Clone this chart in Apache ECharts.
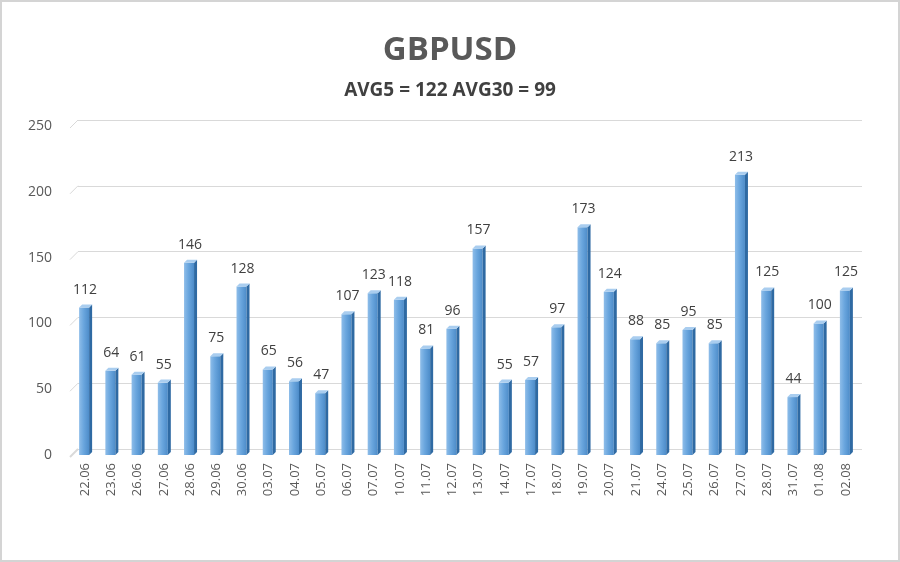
<!DOCTYPE html>
<html>
<head>
<meta charset="utf-8">
<script src="https://cdn.jsdelivr.net/npm/echarts@6/dist/echarts.min.js"></script>
<style>html,body{margin:0;padding:0;background:#fff}#c{width:900px;height:562px}</style>
</head>
<body>
<div id="c"></div>
<script>
var categories = ["22.06","23.06","26.06","27.06","28.06","29.06","30.06","03.07","04.07","05.07","06.07","07.07","10.07","11.07","12.07","13.07","14.07","17.07","18.07","19.07","20.07","21.07","24.07","25.07","26.07","27.07","28.07","31.07","01.08","02.08"];
var values = [112,64,61,55,146,75,128,65,56,47,107,123,118,81,96,157,55,57,97,173,124,88,85,95,85,213,125,44,100,125];
var yTicks = [0,50,100,150,200,250];
var titleText = "GBPUSD";
var subtitleText = "AVG5 = 122 AVG30 = 99";

var FONT = '"Open Sans", "Noto Sans", sans-serif';
var chart = echarts.init(document.getElementById('c'));

function renderBar(params, api) {
  var i = api.value(0), v = api.value(1);
  var top = api.coord([i, v]);
  var base = api.coord([i, 0]);
  var fw = 10, d = 3;
  var x0 = top[0] - fw / 2 - 1;
  var h = base[1] - top[1];
  return {
    type: 'group',
    children: [
      { type: 'rect', shape: { x: x0, y: top[1], width: fw, height: h },
        style: { fill: new echarts.graphic.LinearGradient(0,0,1,0,[{offset:0,color:'#8ebde9'},{offset:0.45,color:'#6aa6de'},{offset:1,color:'#4d8cc9'}]) } },
      { type: 'polygon', shape: { points: [[x0+fw, top[1]],[x0+fw+d, top[1]-d],[x0+fw+d, base[1]-d],[x0+fw, base[1]]] },
        style: { fill: '#2f6aa3' } },
      { type: 'polygon', shape: { points: [[x0, top[1]],[x0+d, top[1]-d],[x0+fw+d, top[1]-d],[x0+fw, top[1]]] },
        style: { fill: '#a9cdef' } },
      { type: 'text', style: { text: String(v), x: top[0], y: top[1] - 11, align: 'center', verticalAlign: 'bottom',
        fill: '#404040', font: '14px ' + FONT } }
    ]
  };
}

function renderSlant(params, api) {
  var y = api.coord([0, api.value(0)])[1];
  var x = params.coordSys.x;
  return { type: 'line', shape: { x1: x - 2, y1: y + 2, x2: x + 6, y2: y - 6 },
    style: { stroke: '#d9d9d9', lineWidth: api.value(0) === 0 ? 2 : 1 } };
}

chart.setOption({
  animation: false,
  backgroundColor: '#ffffff',
  title: [
    { text: titleText, left: 'center', top: 29, textStyle: { fontSize: 33, fontWeight: 'bold', color: '#595959', fontFamily: FONT } },
    { text: subtitleText, left: 'center', top: 76, textStyle: { fontSize: 19, fontWeight: 'bold', color: '#404040', fontFamily: FONT } }
  ],
  graphic: [
    { type: 'rect', shape: { x: 1, y: 1, width: 898, height: 560 }, style: { fill: 'none', stroke: '#d4d4d4', lineWidth: 2 }, silent: true }
  ],
  grid: [
    { left: 72, right: 41, top: 126, bottom: 107 },
    { left: 78, right: 38, top: 120, bottom: 113 }
  ],
  xAxis: [
    {
      type: 'category', data: categories, gridIndex: 0,
      axisLine: { show: false },
      axisTick: { show: false },
      axisLabel: { rotate: 90, color: '#595959', fontSize: 13, margin: 8, fontFamily: FONT }
    },
    { type: 'value', gridIndex: 1, show: false, min: 0, max: 1 }
  ],
  yAxis: [
    {
      type: 'value', gridIndex: 0, min: yTicks[0], max: yTicks[yTicks.length-1], interval: 50,
      axisLine: { show: false }, axisTick: { show: false },
      axisLabel: { color: '#595959', fontSize: 14, margin: 20, fontFamily: FONT },
      splitLine: { show: false }
    },
    {
      type: 'value', gridIndex: 1, min: yTicks[0], max: yTicks[yTicks.length-1], interval: 50,
      axisLine: { show: false }, axisTick: { show: false }, axisLabel: { show: false },
      splitLine: { lineStyle: { color: '#d9d9d9', width: 1 } }
    }
  ],
  series: [
    {
      type: 'custom', xAxisIndex: 0, yAxisIndex: 0, z: 1,
      renderItem: renderSlant,
      encode: { y: 0 },
      data: yTicks.map(function (t) { return [t]; })
    },
    {
      type: 'custom', xAxisIndex: 0, yAxisIndex: 0, z: 3,
      renderItem: renderBar,
      encode: { x: 0, y: 1 },
      data: values.map(function (v, i) { return [i, v]; })
    }
  ]
});
</script>
</body>
</html>
